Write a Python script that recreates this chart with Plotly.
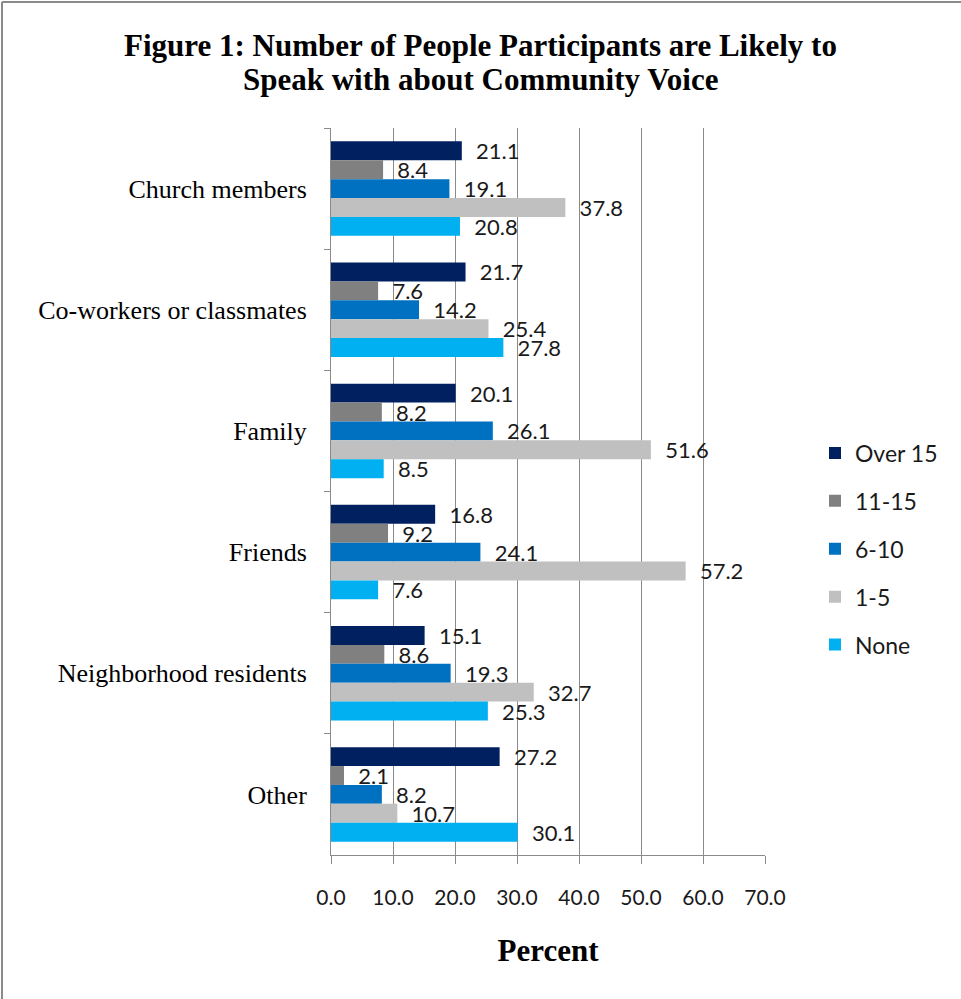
import plotly.graph_objects as go

categories = ["Church members", "Co-workers or classmates", "Family", "Friends",
              "Neighborhood residents", "Other"]
series_names = ["Over 15", "11-15", "6-10", "1-5", "None"]
over15 = [21.1, 21.7, 20.1, 16.8, 15.1, 27.2]
s11_15 = [8.4, 7.6, 8.2, 9.2, 8.6, 2.1]
s6_10 = [19.1, 14.2, 26.1, 24.1, 19.3, 8.2]
s1_5 = [37.8, 25.4, 51.6, 57.2, 32.7, 10.7]
none = [20.8, 27.8, 8.5, 7.6, 25.3, 30.1]
x_ticks = [0, 10, 20, 30, 40, 50, 60, 70]
title_lines = ["Figure 1: Number of People Participants are Likely to",
               "Speak with about Community Voice"]

series_values = [over15, s11_15, s6_10, s1_5, none]
colors = ["#002060", "#808080", "#0070C0", "#C0C0C0", "#00B0F0"]

W, H = 961, 999
ML, MR, MT, MB = 331, 196, 128, 144
pw = W - ML - MR
ph = H - MT - MB

SANS = "Lato, Open Sans, sans-serif"
SERIF = "Liberation Serif, Times New Roman, serif"

def py(ypx):
    return 1 + (MT - ypx) / ph

def px(xpx):
    return (xpx - ML) / pw

fig = go.Figure()
for name, vals, col in zip(series_names, series_values, colors):
    fig.add_trace(go.Bar(
        y=categories, x=vals, name=name, orientation="h",
        marker=dict(color=col, line=dict(width=0)),
        text=["\u00a0\u00a0" + f"{v:.1f}" for v in vals], textposition="outside",
        constraintext="none",
        textfont=dict(family=SANS, size=22, color="#1a1a1a"),
        cliponaxis=False, legendgroup=name,
    ))

fig.update_layout(
    width=W, height=H,
    margin=dict(l=ML, r=MR, t=MT, b=MB),
    paper_bgcolor="white", plot_bgcolor="white",
    barmode="group", bargap=0.22, bargroupgap=0,
    xaxis=dict(
        range=[0, 70], tickvals=x_ticks, tickformat=".1f",
        showgrid=True, gridcolor="#8a8a8a", gridwidth=1,
        showline=True, linecolor="#8a8a8a", linewidth=1,
        ticks="outside", ticklen=8, tickcolor="#8a8a8a",
        ticklabelstandoff=16,
        tickfont=dict(family=SANS, size=21, color="#1a1a1a"),
        title=dict(text="<b>Percent</b>", standoff=31,
                   font=dict(family=SERIF, size=31, color="black")),
        zeroline=False,
    ),
    yaxis=dict(
        autorange="reversed", showline=True, linecolor="#8a8a8a", linewidth=1,
        ticks="outside", tickson="boundaries", ticklen=6, tickcolor="#8a8a8a",
        ticklabelstandoff=18,
        tickfont=dict(family=SERIF, size=26, color="black"),
        showgrid=False,
    ),
    legend=dict(
        x=px(815), xanchor="left", y=py(549), yanchor="middle",
        font=dict(family=SANS, size=23, color="#1a1a1a"),
        tracegroupgap=15, bgcolor="rgba(0,0,0,0)",
    ),
    showlegend=True,
)

for line, ypx in zip(title_lines, [45, 80]):
    fig.add_annotation(text=f"<b>{line}</b>", xref="paper", yref="paper",
                       x=px(W / 2), y=py(ypx), xanchor="center", yanchor="middle",
                       showarrow=False,
                       font=dict(family=SERIF, size=31, color="black"))

# figure border on left and top
fig.add_shape(type="line", xref="paper", yref="paper",
              x0=px(2), x1=px(2), y0=py(H), y1=py(2),
              line=dict(color="#8a8a8a", width=2))
fig.add_shape(type="line", xref="paper", yref="paper",
              x0=px(2), x1=px(W), y0=py(2), y1=py(2),
              line=dict(color="#8a8a8a", width=2))

fig.write_html("out.html", config={"displayModeBar": False},
               post_script="document.body.style.margin='0px';")
